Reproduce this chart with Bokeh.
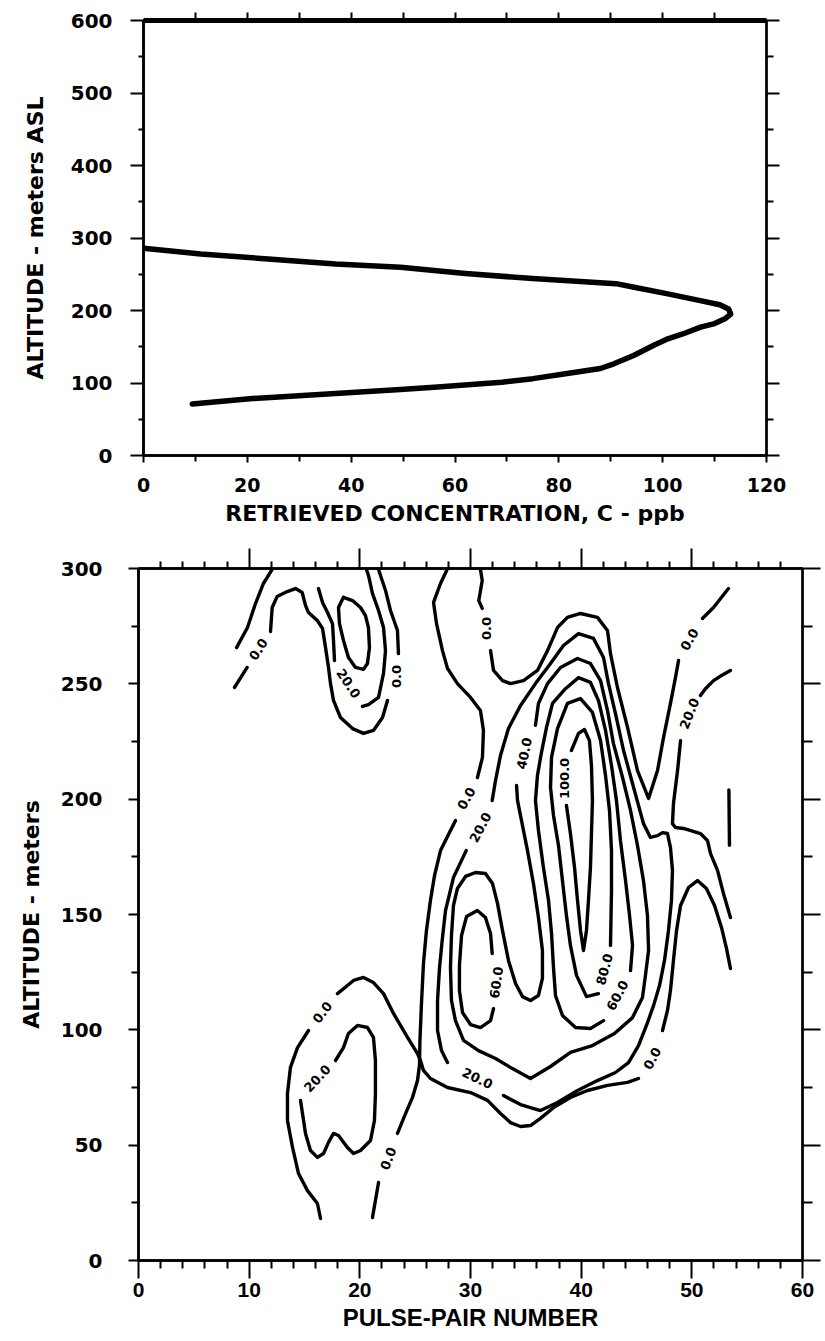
import numpy as np
from bokeh.plotting import figure
from bokeh.layouts import column
from bokeh.models import LinearAxis, FixedTicker, Range1d
from bokeh.core.properties import value
from bokeh.embed import file_html
from bokeh.resources import INLINE

# ---------------- upper panel: retrieved concentration profile ----------------
conc_ppb = [0, 11, 24, 37, 49.5, 62, 75, 91, 94.5, 101, 107, 111, 112.7, 113.1, 112.1,
            110, 107.3, 104, 101, 98.3, 94.4, 90.6, 88, 81.6, 75, 69, 56, 49.5, 37, 21, 9.4]
alt_asl_m = [286, 278, 271, 264, 259.5, 251, 244, 237, 232, 223, 214, 208, 202, 195, 189,
             182, 177, 168, 161, 152, 138, 126.5, 120, 113, 106, 101, 94, 91, 85.5, 78.5, 71]

conc_ticks = [0, 20, 40, 60, 80, 100, 120]
conc_minor = [10, 30, 50, 70, 90, 110]
alt_ticks_top = [0, 100, 200, 300, 400, 500, 600]
alt_minor_top = [50, 150, 250, 350, 450, 550]

# ---------------- lower panel: concentration contours ----------------
pulse_ticks = [0, 10, 20, 30, 40, 50, 60]
pulse_minor = [2, 4, 6, 8, 12, 14, 16, 18, 22, 24, 26, 28, 32, 34, 36, 38,
               42, 44, 46, 48, 52, 54, 56, 58]
alt_ticks_low = [0, 50, 100, 150, 200, 250, 300]
alt_minor_low = [25, 75, 125, 175, 225, 275]

# level 0.0
c0_nw_x = [12.08, 11.29, 10.57, 9.85, 8.86]
c0_nw_y = [299.6, 293.5, 284.8, 274.4, 265.7]
c0_blob_a_x = [8.67, 9.82]
c0_blob_a_y = [248.4, 257.1]
c0_blob_b_x = [11.93, 12.08, 12.53, 13.44, 14.19, 14.79, 15.09, 15.36, 16.17, 16.63, 16.9,
               17.17, 17.35, 17.62, 18.25, 19.34, 20.33, 21.23, 22.05, 22.5]
c0_blob_b_y = [272.7, 283.1, 287.9, 290.0, 291.3, 289.6, 284.0, 280.9, 277.4, 274.0, 265.7,
               257.1, 250.1, 242.8, 235.4, 230.6, 228.5, 229.8, 235.4, 242.8]
c0_blob_c_x = [23.49, 23.4, 22.77, 22.32, 21.69]
c0_blob_c_y = [263.1, 273.1, 281.8, 290.5, 299.6]
c0_top_a_x = [30.9, 31.06, 30.75, 31.06]
c0_top_a_y = [299.6, 294.8, 286.1, 282.7]
c0_top_b_x = [31.81, 32.08, 32.89, 33.61, 34.79, 36.05, 36.96, 37.86, 38.76, 39.94, 41.47,
              42.38, 42.65, 43.28, 44.19, 45.09, 46.09, 46.9, 47.44, 48.07, 48.52, 48.8]
c0_top_b_y = [264.4, 255.8, 251.4, 250.1, 251.4, 255.8, 264.4, 274.4, 278.8, 280.5, 278.8,
              273.1, 263.1, 248.4, 231.1, 212.4, 200.3, 212.4, 226.7, 241.5, 252.7, 260.1]
c0_top_c_x = [50.96, 51.96, 53.31]
c0_top_c_y = [278.3, 283.1, 291.3]
c0_mid_a_x = [27.89, 27.29, 26.66, 26.93, 27.47, 27.92, 28.82, 30.0, 30.9, 31.17, 31.08, 30.63]
c0_mid_a_y = [299.6, 293.5, 285.3, 276.1, 264.4, 256.7, 250.1, 244.1, 238.4, 229.8, 218.1, 209.4]
c0_mid_b_x = [28.64, 27.92, 27.29, 26.75, 26.38, 26.02, 25.75, 25.57, 25.43, 25.39, 25.21,
              24.76, 24.13, 23.4]
c0_mid_b_y = [190.7, 183.8, 177.7, 166.9, 156.1, 143.1, 128.8, 111.4, 95.4, 84.5, 78.0,
              70.7, 63.7, 55.1]
c0_mid_c_x = [21.69, 21.41, 21.14]
c0_mid_c_y = [33.8, 26.0, 18.6]
c0_low_a_x = [16.45, 16.17, 15.27, 14.46, 13.92, 13.46, 13.46, 13.73, 14.37, 15.36]
c0_low_a_y = [18.2, 24.7, 30.3, 37.7, 49.0, 60.7, 72.4, 83.7, 92.3, 99.7]
c0_low_b_x = [17.98, 19.43, 20.33, 21.23, 22.14, 23.04, 24.31, 25.21, 25.48, 25.75, 26.38,
              27.92, 30.0, 31.54, 32.71, 33.61, 34.52, 35.42, 36.32, 37.5, 39.03, 40.57,
              42.38, 44.19, 45.18]
c0_low_b_y = [115.7, 121.4, 122.7, 120.5, 115.7, 107.1, 96.7, 89.7, 86.7, 82.4, 78.9,
              75.0, 72.8, 69.4, 63.7, 59.8, 58.1, 58.5, 61.6, 66.3, 70.7, 73.7,
              75.9, 77.2, 78.9]
c0_low_c_x = [47.35, 47.8, 48.07, 48.34, 48.62, 48.98, 49.7, 50.51, 51.32, 52.05, 52.68,
              53.13, 53.49]
c0_low_c_y = [99.7, 108.4, 117.0, 130.1, 143.1, 153.9, 161.7, 164.7, 161.3, 153.9, 144.4,
              135.3, 126.6]

# level 20.0
c20_nw_a_x = [16.26, 16.63, 17.08, 17.53, 17.62, 17.71]
c20_nw_a_y = [291.3, 285.3, 280.9, 276.1, 268.8, 260.1]
c20_nw_b_x = [20.24, 20.78, 21.69, 22.14, 22.32, 22.14, 21.69, 21.14, 20.78, 20.6]
c20_nw_b_y = [240.2, 241.0, 244.1, 254.5, 264.4, 274.4, 281.8, 289.2, 297.0, 299.6]
c20_sw_x = [17.8, 18.52, 18.97, 19.79, 20.69, 21.23, 21.41, 21.41, 21.32, 20.96, 20.06,
            19.43, 18.88, 18.07, 17.62, 17.17, 16.72, 16.17, 15.54, 15.09, 14.82, 14.64]
c20_sw_y = [86.7, 92.3, 98.4, 101.9, 101.0, 96.7, 86.7, 72.4, 60.7, 52.0, 47.7,
            46.4, 49.0, 54.2, 55.1, 51.2, 46.4, 44.7, 47.7, 55.1, 63.7, 69.4]
c20_main_a_x = [31.96, 32.26, 32.71, 33.43, 34.52, 35.87, 37.23, 38.4, 39.76, 41.11, 42.02,
                42.47, 43.1, 43.83, 44.64, 45.63, 46.26, 46.9, 47.35, 47.8, 48.07, 48.25,
                48.16, 47.89, 47.53, 47.08, 46.54, 45.9, 45.18, 44.28, 43.1, 41.47, 39.67,
                37.86, 36.32, 34.52, 32.98]
c20_main_a_y = [199.4, 208.1, 218.9, 230.6, 240.6, 250.1, 258.8, 266.6, 271.8, 269.7, 261.4,
                250.1, 237.1, 221.1, 206.8, 189.4, 183.4, 184.2, 185.5, 185.1, 179.0, 169.1,
                156.1, 143.1, 130.1, 119.2, 110.5, 101.9, 93.2, 85.8, 81.5, 78.0, 73.7,
                68.5, 65.0, 67.6, 71.5]
c20_main_b_x = [27.92, 27.38, 27.02, 27.02, 27.2, 27.44, 27.74, 28.46, 29.61]
c20_main_b_y = [85.8, 91.0, 99.7, 112.7, 127.0, 138.7, 151.7, 166.0, 177.7]
c20_east_a_x = [53.49, 52.68, 51.96, 51.23, 50.78]
c20_east_a_y = [255.8, 253.6, 251.4, 247.9, 244.9]
c20_east_b_x = [48.98, 48.71, 48.34, 48.25, 48.52, 49.25, 50.78, 51.41, 51.69, 52.32, 52.86, 53.49]
c20_east_b_y = [225.4, 212.4, 198.1, 189.4, 187.7, 187.3, 185.1, 182.1, 176.4, 169.1, 159.1, 148.7]

# level 40.0
c40_nw_x = [18.52, 18.07, 18.16, 18.52, 18.97, 19.61, 20.33, 20.69, 20.87, 20.78, 20.51,
            20.06, 19.34, 18.52]
c40_nw_y = [287.5, 283.1, 276.1, 268.8, 261.4, 257.1, 256.3, 258.8, 265.7, 274.4, 279.6,
            283.1, 286.1, 287.5]
c40_main_x = [35.87, 36.14, 36.96, 38.13, 39.67, 40.84, 41.75, 42.38, 42.92, 43.74, 44.46,
              45.09, 45.63, 45.99, 46.09, 45.81, 45.54, 44.64, 43.01, 41.02, 39.03, 37.23,
              35.42, 33.79, 32.26, 30.72, 29.37, 28.64, 28.28, 28.19, 28.28, 28.46, 28.82,
              29.55, 30.45, 31.35, 31.99, 32.44, 32.89, 33.43, 34.07, 34.7, 35.42, 36.14,
              36.5, 36.5, 36.14, 35.69, 35.15, 34.61, 34.25, 34.16]
c40_main_y = [232.0, 241.5, 250.1, 257.1, 261.0, 258.8, 251.4, 238.4, 224.1, 209.4, 195.1,
              179.9, 164.7, 149.6, 134.4, 123.6, 114.0, 105.3, 98.4, 93.2, 90.2, 84.1,
              78.9, 83.2, 87.6, 91.0, 95.4, 104.0, 112.7, 127.0, 140.9, 153.9, 161.3,
              166.5, 168.2, 167.8, 163.4, 154.8, 143.1, 130.1, 120.1, 114.4, 112.7, 114.9,
              122.3, 134.4, 148.7, 163.4, 177.7, 190.7, 199.4, 205.9]
c40_edge_x = [53.35, 53.4]
c40_edge_y = [204.0, 180.0]

# level 60.0
c60_west_x = [32.08, 31.81, 30.9, 30.0, 29.28, 29.0, 29.0, 29.19, 29.64, 30.62, 31.35, 31.81, 31.96]
c60_west_y = [109.2, 104.0, 101.0, 102.3, 107.5, 117.0, 127.9, 140.9, 149.1, 151.7, 148.7, 141.8, 133.1]
c60_east_x = [42.02, 40.84, 39.49, 38.31, 37.68, 37.5, 37.32, 37.05, 36.59, 36.14, 35.87,
              36.05, 36.41, 36.87, 37.41, 38.58, 39.76, 40.84, 41.56, 42.2, 42.74, 43.19,
              43.55, 44.01, 44.37, 44.64, 44.46]
c60_east_y = [104.0, 100.6, 101.0, 106.2, 114.9, 127.0, 141.8, 156.1, 170.4, 186.4, 199.4,
              210.3, 220.2, 231.1, 241.5, 247.9, 252.7, 250.6, 242.8, 229.8, 214.6, 199.4,
              182.1, 164.7, 149.6, 136.6, 125.7]

# level 80.0
c80_x = [41.56, 40.48, 39.58, 39.03, 38.67, 38.31, 37.95, 37.5, 37.23, 37.32, 37.86, 38.76,
         39.94, 41.02, 41.75, 42.2, 42.56, 42.74, 42.74, 42.65]
c80_y = [115.7, 114.4, 123.6, 136.6, 149.6, 164.7, 179.9, 192.9, 205.1, 218.1, 230.6, 241.5,
         243.6, 237.6, 225.4, 210.3, 195.1, 177.7, 160.4, 136.6]

# level 100.0
c100_x = [39.12, 39.76, 40.3, 40.75, 40.93, 41.02, 40.93, 40.84, 40.66, 40.48, 40.21, 39.94,
          39.67, 39.4, 39.03, 38.67]
c100_y = [221.1, 228.5, 230.2, 225.4, 214.6, 199.4, 185.1, 170.4, 156.1, 143.1, 134.4, 143.1,
          156.1, 170.4, 185.1, 197.3]

# in-line contour labels
label_text = ["0.0", "0.0", "0.0", "0.0", "0.0", "0.0", "0.0", "0.0",
              "20.0", "20.0", "20.0", "20.0", "20.0",
              "40.0", "60.0", "60.0", "80.0", "100.0"]
label_x = [10.84, 23.31, 31.44, 49.79, 29.64, 22.59, 16.63, 46.44,
           18.97, 16.17, 30.9, 30.63, 49.79,
           34.88, 32.35, 43.28, 42.11, 38.49]
label_y = [264.9, 253.2, 274.0, 269.2, 200.3, 44.2, 107.5, 87.6,
           250.1, 78.9, 187.7, 78.9, 237.1,
           219.8, 120.5, 114.9, 126.2, 209.0]
label_angle_deg = [57, 90, 90, 60, 61, 69, 52, 62,
                   -56, 47, 62, -26, 68,
                   78, 82, 62, 75, 90]

contour_xs = [c0_nw_x, c0_blob_a_x, c0_blob_b_x, c0_blob_c_x, c0_top_a_x, c0_top_b_x,
              c0_top_c_x, c0_mid_a_x, c0_mid_b_x, c0_mid_c_x, c0_low_a_x, c0_low_b_x,
              c0_low_c_x, c20_nw_a_x, c20_nw_b_x, c20_sw_x, c20_main_a_x, c20_main_b_x,
              c20_east_a_x, c20_east_b_x, c40_nw_x, c40_main_x, c40_edge_x, c60_west_x,
              c60_east_x, c80_x, c100_x]
contour_ys = [c0_nw_y, c0_blob_a_y, c0_blob_b_y, c0_blob_c_y, c0_top_a_y, c0_top_b_y,
              c0_top_c_y, c0_mid_a_y, c0_mid_b_y, c0_mid_c_y, c0_low_a_y, c0_low_b_y,
              c0_low_c_y, c20_nw_a_y, c20_nw_b_y, c20_sw_y, c20_main_a_y, c20_main_b_y,
              c20_east_a_y, c20_east_b_y, c40_nw_y, c40_main_y, c40_edge_y, c60_west_y,
              c60_east_y, c80_y, c100_y]

BOLD_FONT = "DejaVu Sans"
NARROW_FONT = "Liberation Sans"


def style_axis(ax, ticks, minor, out_major, out_minor, font=BOLD_FONT, size="19px",
               standoff=10, labels=True, line_width=2.5):
    ax.ticker = FixedTicker(ticks=ticks, minor_ticks=minor)
    ax.major_tick_out = out_major
    ax.major_tick_in = 0
    ax.minor_tick_out = out_minor
    ax.minor_tick_in = 0
    ax.major_tick_line_width = 2
    ax.minor_tick_line_width = 2
    ax.major_tick_line_color = "black"
    ax.minor_tick_line_color = "black"
    ax.axis_line_width = line_width
    ax.axis_line_color = "black"
    ax.major_label_text_font = font
    ax.major_label_text_font_style = "bold"
    ax.major_label_standoff = standoff
    ax.axis_label_text_font = BOLD_FONT
    ax.axis_label_text_font_style = "bold"
    ax.axis_label_text_color = "black"
    if labels:
        ax.major_label_text_font_size = size
        ax.major_label_text_color = "black"
    else:
        # tick marks only: the labels are not painted at all
        ax.major_label_text_font_size = "1px"
        ax.major_label_text_color = None


# ---------- upper figure ----------
p1 = figure(width=825, height=540, x_range=Range1d(0, 120), y_range=Range1d(0, 600),
            output_backend="svg", toolbar_location=None,
            min_border_left=143, min_border_right=59, min_border_top=20, min_border_bottom=85)
p1.frame_align = False
p1.grid.visible = False
p1.outline_line_color = "black"
p1.outline_line_width = 2.5

style_axis(p1.xaxis[0], conc_ticks, conc_minor, 7, 6, size="19px", standoff=15)
p1.xaxis[0].axis_label = "RETRIEVED CONCENTRATION, C - ppb"
p1.xaxis[0].axis_label_text_font_size = "22px"
p1.xaxis[0].axis_label_standoff = 6

style_axis(p1.yaxis[0], alt_ticks_top, alt_minor_top, 13, 5, size="20px", standoff=18)
p1.yaxis[0].axis_label = "ALTITUDE - meters ASL"
p1.yaxis[0].axis_label_text_font_size = "22px"
p1.yaxis[0].axis_label_standoff = 20

right1 = LinearAxis()
style_axis(right1, alt_ticks_top, alt_minor_top, 13, 7, labels=False, standoff=0, line_width=2)
p1.add_layout(right1, "right")
top1 = LinearAxis()
style_axis(top1, [10, 20, 30, 40, 50, 60, 70, 80, 90, 100, 110], [], 8, 0, labels=False,
           standoff=0, line_width=5)
p1.add_layout(top1, "above")

p1.line(conc_ppb, alt_asl_m, line_color="black", line_width=5.5,
        line_join="round", line_cap="round")

# ---------- lower figure ----------
p2 = figure(width=825, height=801, x_range=Range1d(0, 60), y_range=Range1d(0, 300),
            output_backend="svg", toolbar_location=None,
            min_border_left=138, min_border_right=23, min_border_top=28, min_border_bottom=81)
p2.frame_align = False
p2.grid.visible = False
p2.outline_line_color = "black"
p2.outline_line_width = 2.5

style_axis(p2.xaxis[0], pulse_ticks, pulse_minor, 18, 8, font=NARROW_FONT, size="21px", standoff=4)
p2.xaxis[0].axis_label = "PULSE-PAIR NUMBER"
p2.xaxis[0].axis_label_text_font = NARROW_FONT
p2.xaxis[0].axis_label_text_font_size = "24px"
p2.xaxis[0].axis_label_standoff = 4

style_axis(p2.yaxis[0], alt_ticks_low, alt_minor_low, 10, 7, size="20px", standoff=26)
p2.yaxis[0].axis_label = "ALTITUDE - meters"
p2.yaxis[0].axis_label_text_font_size = "22px"
p2.yaxis[0].axis_label_standoff = 14

right2 = LinearAxis()
style_axis(right2, alt_ticks_low, alt_minor_low, 18, 10, labels=False, standoff=0, line_width=2)
p2.add_layout(right2, "right")
top2 = LinearAxis()
style_axis(top2, [10, 20, 30, 40, 50], pulse_minor, 20, 7, labels=False, standoff=0)
p2.add_layout(top2, "above")

p2.multi_line(xs=contour_xs, ys=contour_ys, line_color="black", line_width=3.4,
              line_join="round", line_cap="round")
p2.text(x=label_x, y=label_y, text=label_text, angle=list(np.deg2rad(label_angle_deg)),
        text_font=value(BOLD_FONT), text_font_style="bold", text_font_size="13px",
        text_align="center", text_baseline="middle", text_color="black")

layout = column(p1, p2, spacing=0)
open("out.html", "w").write(file_html(layout, INLINE))
